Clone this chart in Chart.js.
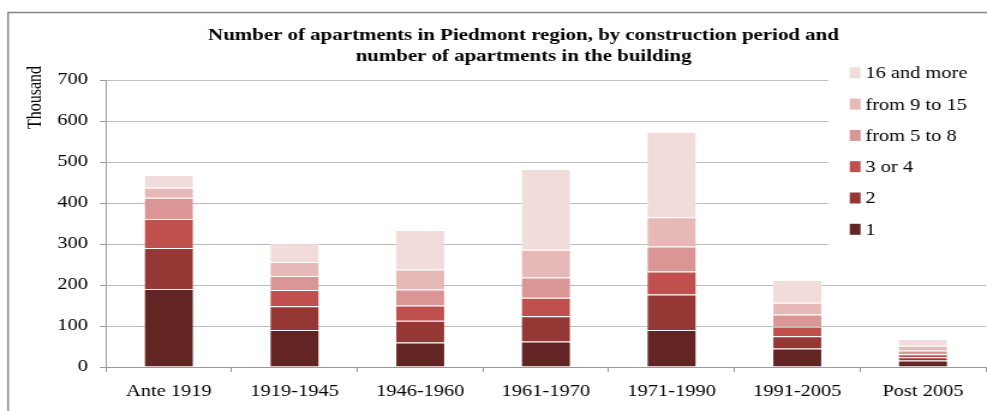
<!DOCTYPE html>
<html>
<head>
<meta charset="utf-8">
<script src="https://cdn.jsdelivr.net/npm/chart.js@4.4.0/dist/chart.umd.min.js"></script>
<style>
  html, body { margin: 0; padding: 0; background: #fff; overflow: hidden; }
  /* the reference is stretched a little sideways, so draw narrow and stretch */
  #chart { display: block; transform: scale(1.2007, 1); transform-origin: 0 0; }
</style>
</head>
<body>
<canvas id="chart" width="822" height="411"></canvas>
<script>
let periods = ['Ante 1919', '1919-1945', '1946-1960', '1961-1970', '1971-1990', '1991-2005', 'Post 2005'];

let one = [190, 90, 60, 62, 90, 45, 16];
let two = [100, 58, 53, 62, 87, 30, 8];
let threeOrFour = [71, 40, 37, 45, 56, 24, 7];
let fiveToEight = [52, 34, 39, 49, 61, 29, 9];
let nineToFifteen = [24, 34, 49, 68, 71, 29, 12];
let sixteenPlus = [31, 46, 96, 197, 209, 55, 16];

let seriesNames = ['1', '2', '3 or 4', 'from 5 to 8', 'from 9 to 15', '16 and more'];
let seriesColors = ['#632523', '#953735', '#C0504D', '#D99694', '#E6B9B8', '#F2DCDB'];

let titleLines = ['Number of apartments in Piedmont region, by construction period and',
                  'number of apartments in the building'];
let yTitle = 'Thousand';

const serif = "'Liberation Serif', 'Times New Roman', serif";
const gridGrey = '#bdbdbd';

let allSeries = [one, two, threeOrFour, fiveToEight, nineToFifteen, sixteenPlus];
let datasets = allSeries.map(function (vals, i) {
    return {
        label: seriesNames[i],
        data: vals,
        backgroundColor: seriesColors[i],
        borderColor: 'rgba(255,255,255,0.25)',
        borderWidth: 1,
        barPercentage: 0.4,
        categoryPercentage: 1
    };
});

// frame, title, y axis caption and legend (legend sits over the plot like in Excel)
const extras = {
    id: 'extras',
    afterDraw(chart) {
        const ctx = chart.ctx;
        ctx.save();

        // outer frame
        ctx.strokeStyle = '#858585';
        ctx.lineWidth = 1.5;
        ctx.beginPath();
        ctx.moveTo(6.7, 430);
        ctx.lineTo(6.7, 12.5);
        ctx.lineTo(830, 12.5);
        ctx.stroke();

        // title
        ctx.fillStyle = '#000';
        ctx.font = 'bold 17.4px ' + serif;
        ctx.textAlign = 'center';
        ctx.textBaseline = 'alphabetic';
        ctx.fillText(titleLines[0], 436, 39.5);
        ctx.fillText(titleLines[1], 436, 61);

        // y axis caption
        ctx.save();
        ctx.translate(30, 97.5);
        ctx.rotate(-Math.PI / 2);
        ctx.font = '16px ' + serif;
        ctx.textBaseline = 'middle';
        ctx.fillText(yTitle, 0, 0);
        ctx.restore();

        // legend
        ctx.fillStyle = '#fff';
        ctx.fillRect(690, 56, 132, 192);
        ctx.font = '17px ' + serif;
        ctx.textAlign = 'left';
        ctx.textBaseline = 'middle';
        for (let i = 0; i < seriesNames.length; i++) {
            let k = seriesNames.length - 1 - i;
            let yc = 72.8 + i * 31.3;
            ctx.fillStyle = seriesColors[k];
            ctx.fillRect(707.7, yc - 5.5, 9, 11);
            ctx.fillStyle = '#000';
            ctx.fillText(seriesNames[k], 720.8, yc + 1);
        }
        ctx.restore();
    }
};

let apt_chart = new Chart(document.getElementById('chart').getContext('2d'), {
    type: 'bar',
    data: {
        labels: periods,
        datasets: datasets
    },
    options: {
        responsive: false,
        animation: false,
        layout: { padding: { top: 80, right: 1, bottom: 0, left: 0 } },
        plugins: {
            legend: { display: false },
            title: { display: false },
            tooltip: { enabled: false }
        },
        scales: {
            x: {
                stacked: true,
                grid: {
                    display: true,
                    drawOnChartArea: false,
                    offset: true,
                    color: '#9a9a9a',
                    tickLength: 5
                },
                border: { color: '#9a9a9a', width: 1 },
                ticks: {
                    color: '#000',
                    font: { family: serif, size: 17 },
                    padding: 9,
                    maxRotation: 0,
                    autoSkip: false
                },
                afterFit(scale) { scale.height = 44; }
            },
            y: {
                stacked: true,
                min: 0,
                max: 700,
                grid: {
                    color: gridGrey,
                    tickColor: '#9a9a9a',
                    tickLength: 5
                },
                border: { color: '#9a9a9a', width: 1 },
                ticks: {
                    stepSize: 100,
                    color: '#000',
                    font: { family: serif, size: 17 },
                    padding: 10
                },
                afterFit(scale) { scale.width = 88.3; }
            }
        }
    },
    plugins: [extras]
});
</script>
</body>
</html>
